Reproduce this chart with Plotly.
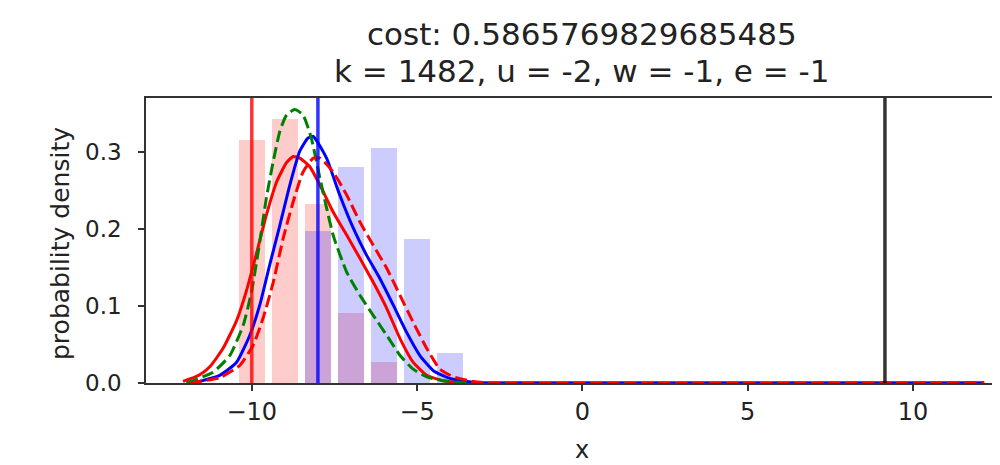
import plotly.graph_objects as go

# ---- data ----
hist_centers_red = [-10, -9, -8, -7, -6]
hist_density_red = [0.316, 0.343, 0.232, 0.091, 0.027]
hist_centers_blue = [-8, -7, -6, -5, -4]
hist_density_blue = [0.197, 0.280, 0.305, 0.187, 0.039]
bar_width = 0.8

red_solid_x = [-12.08, -11.6, -11.27, -10.87, -10.46, -10.16, -9.86, -9.56, -9.25, -8.95, -8.75, -8.55, -8.25,
               -7.94, -7.54, -7.13, -6.73, -6.33, -5.92, -5.52, -5.12, -4.71, -4.21, -3.5, -3.0, 12.15]
red_solid_y = [0.002, 0.010, 0.021, 0.045, 0.081, 0.120, 0.168, 0.218, 0.261, 0.286, 0.294, 0.292, 0.281,
               0.257, 0.222, 0.192, 0.162, 0.131, 0.097, 0.058, 0.027, 0.010, 0.003, 0.0005, 0.0, 0.0]

blue_solid_x = [-11.78, -10.97, -10.46, -10.06, -9.76, -9.46, -9.15, -8.85, -8.55, -8.30, -8.14, -7.74,
                -7.34, -6.93, -6.53, -6.13, -5.72, -5.32, -4.92, -4.51, -4.01, -3.3, -3.0, 12.15]
blue_solid_y = [0.0, 0.010, 0.027, 0.062, 0.101, 0.153, 0.205, 0.257, 0.301, 0.318, 0.320, 0.292,
                0.244, 0.201, 0.166, 0.136, 0.101, 0.066, 0.036, 0.016, 0.006, 0.001, 0.0, 0.0]

green_dash_x = [-11.98, -11.17, -10.66, -10.26, -10.01, -9.76, -9.56, -9.35, -9.15, -8.95, -8.70, -8.45,
                -8.20, -7.94, -7.54, -7.13, -6.73, -6.33, -5.92, -5.52, -5.12, -4.71, -4.21, -3.5, 12.15]
green_dash_y = [0.0, 0.014, 0.036, 0.075, 0.118, 0.183, 0.240, 0.288, 0.327, 0.348, 0.355, 0.348,
                0.318, 0.266, 0.192, 0.144, 0.114, 0.088, 0.062, 0.036, 0.018, 0.008, 0.003, 0.0, 0.0]

red_dash_x = [-11.88, -10.97, -10.36, -9.96, -9.66, -9.35, -9.05, -8.75, -8.45, -8.14, -7.94, -7.54,
              -7.13, -6.73, -6.33, -5.92, -5.52, -5.12, -4.71, -4.31, -3.90, -3.3, -2.8, 12.15]
red_dash_y = [0.0, 0.007, 0.023, 0.049, 0.084, 0.131, 0.188, 0.235, 0.274, 0.292, 0.292, 0.274,
              0.244, 0.209, 0.179, 0.149, 0.114, 0.079, 0.045, 0.018, 0.008, 0.002, 0.0, 0.0]

vline_positions = [-10.0, -8.0, 9.15]
vline_colors = ["rgba(255,0,0,0.8)", "rgba(0,0,255,0.8)", "rgba(0,0,0,0.8)"]

x_tick_vals = [-10, -5, 0, 5, 10]
x_tick_text = ["\u221210", "\u22125", "0", "5", "10"]
y_tick_vals = [0.0, 0.1, 0.2, 0.3]
y_tick_text = ["0.0", "0.1", "0.2", "0.3"]

title_line1 = "cost: 0.5865769829685485"
title_line2 = "k = 1482, u = -2, w = -1, e = -1"
x_label = "x"
y_label = "probability density"

FONT = "DejaVu Sans"
TXT = "#222222"
AX = "#333333"

# page has an 8px body margin: figure occupies page pixels [8,1000] x [8,465]
OFF = 8
PW, PH = 1000, 465
W, H = PW - OFF, PH - OFF
# plot area in page pixels
P_LEFT, P_TOP, P_BOTTOM, P_RIGHT = 146, 98, 383, 1000
L, T, B, R = P_LEFT - OFF, P_TOP - OFF, PH - P_BOTTOM, PW - P_RIGHT
PLOT_W, PLOT_H = W - L - R, H - T - B


def px_to_paper_x(px):
    return (px - P_LEFT) / PLOT_W


def px_to_paper_y(py):
    return (P_BOTTOM - py) / PLOT_H


fig = go.Figure()
fig.add_trace(go.Bar(x=hist_centers_red, y=hist_density_red, width=bar_width,
                     marker=dict(color="rgba(255,0,0,0.2)", line=dict(width=0)), showlegend=False))
fig.add_trace(go.Bar(x=hist_centers_blue, y=hist_density_blue, width=bar_width,
                     marker=dict(color="rgba(0,0,255,0.2)", line=dict(width=0)), showlegend=False))

for xs, ys, col, dash in [(red_solid_x, red_solid_y, "#ff0000", "solid"),
                          (blue_solid_x, blue_solid_y, "#0000ff", "solid"),
                          (green_dash_x, green_dash_y, "#008000", "12px,5px"),
                          (red_dash_x, red_dash_y, "#ff0000", "12px,5px")]:
    fig.add_trace(go.Scatter(x=xs, y=ys, mode="lines", showlegend=False,
                             line=dict(color=col, width=3, dash=dash, shape="spline", smoothing=0.5)))

for xv, col in zip(vline_positions, vline_colors):
    fig.add_shape(type="line", x0=xv, x1=xv, y0=0, y1=1, xref="x", yref="paper",
                  line=dict(color=col, width=3.5), layer="above")

fig.update_layout(
    width=W, height=H,
    margin=dict(l=L, r=R, t=T, b=B, pad=0, autoexpand=False),
    barmode="overlay", bargap=0,
    plot_bgcolor="white", paper_bgcolor="white",
    font=dict(family=FONT, color=TXT, size=23),
    xaxis=dict(range=[-13.2, 12.63], tickvals=x_tick_vals, ticktext=x_tick_text,
               showgrid=False, zeroline=False, showline=True, linecolor=AX, linewidth=1.6,
               mirror=True, ticks="outside", ticklen=6, tickwidth=1.6, tickcolor=AX,
               tickfont=dict(size=24, family=FONT, color=TXT), automargin=False),
    yaxis=dict(range=[0, 0.370], tickvals=y_tick_vals, ticktext=y_tick_text,
               showgrid=False, zeroline=False, showline=True, linecolor=AX, linewidth=1.6,
               mirror=False, ticks="outside", ticklen=6, tickwidth=1.6, tickcolor=AX,
               ticklabelstandoff=12,
               tickfont=dict(size=23, family=FONT, color=TXT), automargin=False),
    annotations=[
        dict(text=title_line1, x=px_to_paper_x(582), y=px_to_paper_y(34),
             xref="paper", yref="paper", xanchor="center", yanchor="middle", showarrow=False,
             font=dict(size=31, family=FONT, color=TXT)),
        dict(text=title_line2, x=px_to_paper_x(582), y=px_to_paper_y(71),
             xref="paper", yref="paper", xanchor="center", yanchor="middle", showarrow=False,
             font=dict(size=31, family=FONT, color=TXT)),
        dict(text=x_label, x=px_to_paper_x(582), y=px_to_paper_y(450),
             xref="paper", yref="paper", xanchor="center", yanchor="middle", showarrow=False,
             font=dict(size=24, family=FONT, color=TXT)),
        dict(text=y_label, x=px_to_paper_x(60), y=px_to_paper_y(244), textangle=-90,
             xref="paper", yref="paper", xanchor="center", yanchor="middle", showarrow=False,
             font=dict(size=25, family=FONT, color=TXT)),
    ],
)

fig.write_html("out.html")
